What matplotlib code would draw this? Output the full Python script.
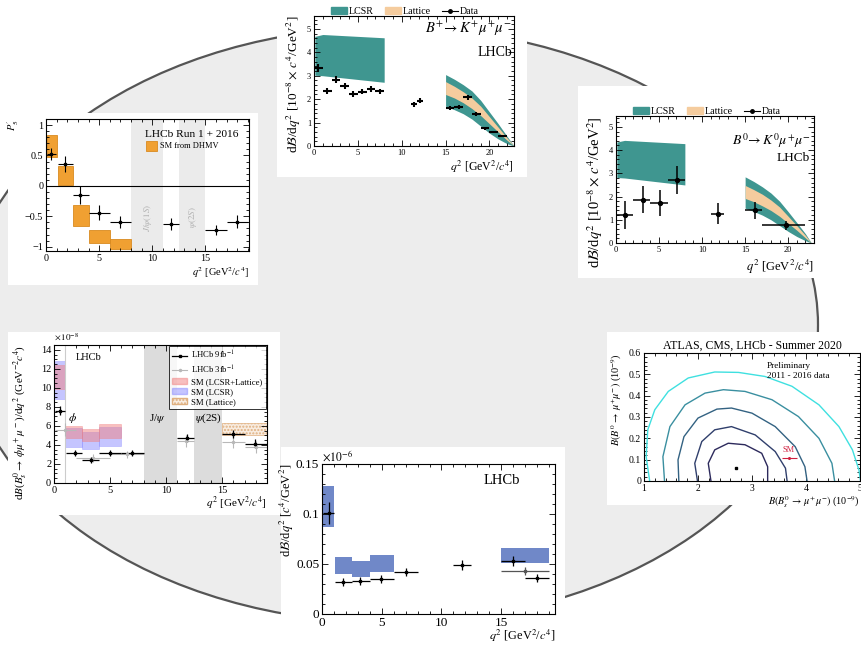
import numpy as np
import matplotlib
matplotlib.use("Agg")
import matplotlib.pyplot as plt
from matplotlib.patches import Ellipse, Rectangle, Patch
from matplotlib.lines import Line2D
from matplotlib.ticker import MultipleLocator, FuncFormatter

plt.rcParams['font.family'] = ['Liberation Serif', 'DejaVu Serif']
plt.rcParams['mathtext.fontset'] = 'stix'

W, H = 862, 649

# ---------------- P'5 (B0 -> K*0 mu mu) ----------------
p5_lo = [0.1, 1.1, 2.5, 4.0, 6.0, 11.0, 15.0, 17.0]
p5_hi = [0.98, 2.5, 4.0, 6.0, 8.0, 12.5, 17.0, 19.0]
p5_x = [0.5, 1.8, 3.2, 5.0, 7.0, 11.75, 16.0, 18.0]
p5_val = [0.52, 0.36, -0.15, -0.44, -0.59, -0.63, -0.72, -0.59]
p5_err = [0.10, 0.13, 0.15, 0.12, 0.10, 0.10, 0.08, 0.11]
sm_p5_lo = [0.1, 1.1, 2.5, 4.0, 6.0]
sm_p5_hi = [1.0, 2.5, 4.0, 6.0, 8.0]
sm_p5_min = [0.47, 0.02, -0.66, -0.94, -1.04]
sm_p5_max = [0.84, 0.33, -0.31, -0.72, -0.88]

# ---------------- B+ -> K+ mu mu ----------------
kp_x = [0.5, 1.5, 2.5, 3.5, 4.5, 5.5, 6.5, 7.5, 11.4, 12.1,
        15.5, 16.5, 17.5, 18.5, 19.5, 20.5, 21.5]
kp_xe = [0.5, 0.5, 0.5, 0.5, 0.5, 0.5, 0.5, 0.5, 0.375, 0.375,
         0.5, 0.5, 0.5, 0.5, 0.5, 0.5, 0.5]
kp_val = [3.33, 2.34, 2.83, 2.55, 2.22, 2.32, 2.45, 2.33, 1.78, 1.94,
          1.62, 1.66, 2.08, 1.38, 0.75, 0.60, 0.43]
kp_err = [0.17, 0.13, 0.14, 0.13, 0.12, 0.12, 0.13, 0.12, 0.10, 0.10,
          0.09, 0.09, 0.10, 0.08, 0.06, 0.05, 0.05]
kp_lcsr_lo_q2 = [0.1, 1.0, 8.0]
kp_lcsr_lo_up = [4.68, 4.76, 4.62]
kp_lcsr_lo_dn = [3.02, 3.00, 2.72]
kp_hi_q2 = [15, 16, 17, 18, 19, 20, 21, 22, 22.8]
kp_lcsr_hi_up = [3.05, 2.85, 2.62, 2.35, 1.95, 1.45, 0.95, 0.42, 0.0]
kp_lcsr_hi_dn = [1.70, 1.55, 1.38, 1.15, 0.85, 0.55, 0.30, 0.10, 0.0]
kp_lat_up = [2.75, 2.55, 2.32, 2.05, 1.70, 1.25, 0.80, 0.35, 0.0]
kp_lat_dn = [2.20, 2.05, 1.85, 1.60, 1.30, 0.95, 0.60, 0.25, 0.0]

# ---------------- B0 -> K0 mu mu ----------------
k0_lo = [0.1, 2.0, 4.0, 6.0, 11.0, 15.0, 17.0]
k0_hi = [2.0, 4.0, 6.0, 8.0, 12.5, 17.0, 22.0]
k0_x = [1.0, 3.1, 5.1, 7.1, 11.9, 16.1, 19.7]
k0_val = [1.22, 1.87, 1.72, 2.70, 1.27, 1.41, 0.76]
k0_err = [0.60, 0.57, 0.55, 0.60, 0.46, 0.37, 0.20]
k0_lcsr_lo_q2 = [0.1, 1.0, 8.0]
k0_lcsr_lo_up = [4.35, 4.42, 4.28]
k0_lcsr_lo_dn = [2.82, 2.80, 2.50]
k0_hi_q2 = [15, 16, 17, 18, 19, 20, 21, 22, 22.7]
k0_lcsr_hi_up = [2.85, 2.65, 2.42, 2.15, 1.80, 1.35, 0.88, 0.40, 0.0]
k0_lcsr_hi_dn = [1.50, 1.36, 1.20, 1.00, 0.75, 0.50, 0.28, 0.10, 0.0]
k0_lat_up = [2.48, 2.30, 2.10, 1.85, 1.55, 1.15, 0.75, 0.33, 0.0]
k0_lat_dn = [1.92, 1.78, 1.60, 1.40, 1.15, 0.85, 0.55, 0.22, 0.0]

# ---------------- Bs -> phi mu mu ----------------
phi9_lo = [0.1, 1.1, 2.5, 4.0, 6.0, 11.0, 15.0, 17.0]
phi9_hi = [0.98, 2.5, 4.0, 6.0, 8.0, 12.5, 17.0, 19.0]
phi9_x = [0.55, 1.9, 3.3, 5.0, 7.0, 11.9, 16.0, 17.9]
phi9_val = [7.6, 3.15, 2.4, 3.15, 3.15, 4.75, 5.15, 4.15]
phi9_err = [0.5, 0.3, 0.3, 0.3, 0.3, 0.45, 0.45, 0.45]
phi3_lo = [0.1, 2.0, 5.0, 11.0, 15.0, 17.0]
phi3_hi = [2.0, 5.0, 8.0, 12.5, 17.0, 19.0]
phi3_x = [1.0, 3.5, 6.5, 11.8, 16.0, 18.0]
phi3_val = [5.6, 2.6, 3.0, 4.4, 4.3, 3.8]
phi3_err = [0.7, 0.4, 0.4, 0.6, 0.6, 0.6]
sm_phi_lo = [0.1, 1.0, 2.5, 4.0]
sm_phi_hi = [1.0, 2.5, 4.0, 6.0]
sm_lcsr_min = [8.8, 3.8, 3.6, 3.9]
sm_lcsr_max = [12.8, 5.8, 5.4, 5.9]
sm_comb_min = [9.9, 4.7, 4.45, 4.75]
sm_comb_max = [12.4, 6.0, 5.7, 6.15]
sm_lat_lo, sm_lat_hi = [15.0], [19.0]
sm_lat_min, sm_lat_max = [5.0], [6.3]

# ---------------- bottom centre panel ----------------
bc_lo = [0.1, 1.1, 2.5, 4.0, 6.0, 11.0, 15.0, 15.0, 17.0]
bc_hi = [0.98, 2.5, 4.0, 6.0, 8.0, 12.5, 17.0, 19.0, 19.0]
bc_x = [0.56, 1.75, 3.2, 4.95, 7.0, 11.7, 16.0, 17.0, 18.0]
bc_val = [0.101, 0.0323, 0.0333, 0.035, 0.0422, 0.0488, 0.0528, 0.043, 0.0356]
bc_err = [0.011, 0.004, 0.004, 0.004, 0.004, 0.005, 0.005, 0.004, 0.004]
bc_col = ['k', 'k', 'k', 'k', 'k', 'k', 'k', '#555555', 'k']
bc_sm_lo = [0.1, 1.1, 2.5, 4.0, 15.0]
bc_sm_hi = [1.0, 2.5, 4.0, 6.0, 19.0]
bc_sm_min = [0.087, 0.040, 0.037, 0.042, 0.0515]
bc_sm_max = [0.128, 0.057, 0.0535, 0.0587, 0.066]

# ---------------- B(s) -> mu mu combination contours ----------------
cont_x = [
    [2.24, 2.19, 2.31, 2.56, 2.87, 3.18, 3.29, 3.29],
    [1.99, 1.94, 2.07, 2.31, 2.62, 3.06, 3.43, 3.62, 3.65],
    [1.645, 1.63, 1.74, 2.00, 2.35, 2.62, 3.00, 3.43, 3.80, 3.98, 4.02],
    [1.38, 1.35, 1.48, 1.76, 2.13, 2.47, 2.87, 3.37, 3.86, 4.24, 4.48, 4.53],
    [1.105, 1.04, 1.07, 1.20, 1.45, 1.82, 2.31, 2.75, 3.24, 3.74, 4.24,
     4.61, 4.86, 4.98, 5.01],
]
cont_y = [
    [0.0, 0.083, 0.146, 0.177, 0.170, 0.130, 0.067, 0.0],
    [0.0, 0.083, 0.185, 0.240, 0.255, 0.216, 0.138, 0.060, 0.0],
    [0.0, 0.099, 0.208, 0.295, 0.337, 0.342, 0.318, 0.255, 0.161, 0.067, 0.0],
    [0.0, 0.114, 0.255, 0.357, 0.412, 0.428, 0.420, 0.381, 0.302, 0.200, 0.083, 0.0],
    [0.0, 0.114, 0.240, 0.334, 0.420, 0.483, 0.511, 0.509, 0.490, 0.444, 0.357,
     0.255, 0.146, 0.052, 0.0],
]
cont_col = ['#2d2a5c', '#303f6c', '#336282', '#3a8fa0', '#3fe0e0']
best_fit = (2.70, 0.062)
sm_point = (3.69, 0.11)
sm_xerr = 0.14

TEAL = '#3f9690'
TAN = '#f5cc9e'
ORANGE = '#f0a032'


def fig_rect(x0, y0, x1, y1):
    # pixel box (top-left origin) -> figure fraction rect
    return [x0 / W, 1 - y1 / H, (x1 - x0) / W, (y1 - y0) / H]


def fmt_g(v, pos):
    s = '%g' % round(v, 6)
    return s.replace('-', '\u2212')


def root_axes(ax, xmaj, xmin, ymaj, ymin, fs=6):
    ax.tick_params(which='both', direction='in', top=True, right=True,
                   labelsize=fs, pad=2, width=0.6)
    ax.tick_params(which='major', length=4)
    ax.tick_params(which='minor', length=2)
    ax.xaxis.set_major_locator(MultipleLocator(xmaj))
    ax.xaxis.set_minor_locator(MultipleLocator(xmin))
    ax.yaxis.set_major_locator(MultipleLocator(ymaj))
    ax.yaxis.set_minor_locator(MultipleLocator(ymin))
    ax.xaxis.set_major_formatter(FuncFormatter(fmt_g))
    ax.yaxis.set_major_formatter(FuncFormatter(fmt_g))
    for s in ax.spines.values():
        s.set_linewidth(0.8)


def axis_titles(ax, xlab, ylab, xfs, yfs, xoff=-0.2, yoff=-0.15):
    # ROOT style: titles pushed to the far end of each axis
    ax.text(1.0, xoff, xlab, transform=ax.transAxes, fontsize=xfs,
            ha='right', va='center')
    ax.text(yoff, 1.0, ylab, transform=ax.transAxes, fontsize=yfs,
            rotation=90, ha='center', va='top')


def bin_err(x, lo, hi):
    x = np.asarray(x)
    return [x - np.asarray(lo), np.asarray(hi) - x]


fig = plt.figure(figsize=(W / 100, H / 100), dpi=100)

# background ellipse and white panel cards
bg = fig.add_axes([0, 0, 1, 1])
bg.set_xlim(0, W)
bg.set_ylim(H, 0)
bg.axis('off')
bg.add_patch(Ellipse((390, 325), 856, 596, facecolor='#ededed',
                     edgecolor='#555555', linewidth=1.6))
for (x0, y0, x1, y1) in [(8, 113, 258, 285), (277, 0, 527, 177),
                         (578, 86, 827, 278), (8, 332, 280, 515),
                         (281, 447, 565, 649), (607, 332, 862, 505)]:
    bg.add_patch(Rectangle((x0, y0), x1 - x0, y1 - y0, facecolor='white',
                           edgecolor='none'))

# ---- P'5 panel ----
ax1 = fig.add_axes(fig_rect(46, 119, 249, 251))
ax1.axvspan(8, 11, color='#ebebeb', lw=0)
ax1.axvspan(12.5, 15, color='#ebebeb', lw=0)
ax1.axhline(0, color='k', lw=0.8)
for lo, hi, mn, mx in zip(sm_p5_lo, sm_p5_hi, sm_p5_min, sm_p5_max):
    ax1.add_patch(Rectangle((lo, mn), hi - lo, mx - mn, facecolor=ORANGE,
                            edgecolor='#d98a20', lw=0.6))
ax1.errorbar(p5_x, p5_val, xerr=bin_err(p5_x, p5_lo, p5_hi), yerr=p5_err,
             fmt='s', ms=2, color='k', elinewidth=0.8, capsize=0)
ax1.text(9.55, -0.52, r'$J/\psi(1S)$', rotation=90, color='#b0b0b0',
         fontsize=6.5, ha='center', va='center')
ax1.text(13.8, -0.52, r'$\psi(2S)$', rotation=90, color='#b0b0b0',
         fontsize=6.5, ha='center', va='center')
ax1.text(0.49, 0.885, 'LHCb Run 1 + 2016', transform=ax1.transAxes,
         fontsize=8.2, va='center')
ax1.add_patch(Rectangle((0.495, 0.76), 0.05, 0.07, transform=ax1.transAxes,
                        facecolor=ORANGE, edgecolor='#d98a20', lw=0.6))
ax1.text(0.56, 0.795, 'SM from DHMV', transform=ax1.transAxes, fontsize=6,
         va='center')
ax1.set_xlim(0, 19.1)
ax1.set_ylim(-1.07, 1.1)
root_axes(ax1, 5, 1, 0.5, 0.1, fs=7.3)
axis_titles(ax1, r'$q^2$ [GeV$^2$/$c^4$]', r"$P_5'$", 7.5, 7.5,
            xoff=-0.167, yoff=-0.16)


def kmumu_panel(ax, lo_q2, lo_up, lo_dn, hi_q2, hi_up, hi_dn, lat_up, lat_dn):
    ax.fill_between(lo_q2, lo_dn, lo_up, color=TEAL, lw=0)
    ax.fill_between(hi_q2, hi_dn, hi_up, color=TEAL, lw=0)
    ax.fill_between(hi_q2, lat_dn, lat_up, color=TAN, lw=0)
    handles = [Patch(color=TEAL), Patch(color=TAN),
               Line2D([], [], color='k', marker='o', ms=2.5, lw=0.8)]
    ax.legend(handles, ['LCSR', 'Lattice', 'Data'], ncol=3, loc='lower left',
              bbox_to_anchor=(0.08, 0.99), frameon=False, fontsize=7.2,
              handlelength=1.6, handletextpad=0.2, columnspacing=1.1,
              borderaxespad=0, borderpad=0.1)


dbdq2 = r'd$\mathcal{B}$/d$q^2$ [10$^{-8}\times\,c^4$/GeV$^2$]'
q2lab = r'$q^2$ [GeV$^2$/$c^4$]'

# ---- B+ -> K+ mu mu ----
ax2 = fig.add_axes(fig_rect(314, 16, 514, 146))
kmumu_panel(ax2, kp_lcsr_lo_q2, kp_lcsr_lo_up, kp_lcsr_lo_dn, kp_hi_q2,
            kp_lcsr_hi_up, kp_lcsr_hi_dn, kp_lat_up, kp_lat_dn)
ax2.errorbar(kp_x, kp_val, xerr=kp_xe, yerr=kp_err, fmt='none', color='k',
             elinewidth=1.5, capsize=0)
ax2.text(0.99, 0.90, r'$B^{+}\!\rightarrow K^{+}\mu^{+}\mu^{-}$',
         transform=ax2.transAxes, fontsize=10.5, ha='right', va='center')
ax2.text(0.99, 0.72, 'LHCb', transform=ax2.transAxes, fontsize=10,
         ha='right', va='center')
ax2.set_xlim(0, 22.8)
ax2.set_ylim(0, 5.55)
root_axes(ax2, 5, 1, 1, 0.2, fs=6)
axis_titles(ax2, q2lab, dbdq2, 8.5, 9.5, xoff=-0.16, yoff=-0.1)

# ---- B0 -> K0 mu mu ----
ax3 = fig.add_axes(fig_rect(616, 116, 814, 243))
kmumu_panel(ax3, k0_lcsr_lo_q2, k0_lcsr_lo_up, k0_lcsr_lo_dn, k0_hi_q2,
            k0_lcsr_hi_up, k0_lcsr_hi_dn, k0_lat_up, k0_lat_dn)
ax3.errorbar(k0_x, k0_val, xerr=bin_err(k0_x, k0_lo, k0_hi), yerr=k0_err,
             fmt='o', ms=2.8, color='k', elinewidth=1.1, capsize=0)
ax3.text(0.98, 0.81, r'$B^{0}\!\rightarrow K^{0}\mu^{+}\mu^{-}$',
         transform=ax3.transAxes, fontsize=10, ha='right', va='center')
ax3.text(0.98, 0.67, 'LHCb', transform=ax3.transAxes, fontsize=9.5,
         ha='right', va='center')
ax3.set_xlim(0, 23)
ax3.set_ylim(0, 5.47)
root_axes(ax3, 5, 1, 1, 0.2, fs=6)
axis_titles(ax3, q2lab, dbdq2, 9, 10.5, xoff=-0.19, yoff=-0.105)

# ---- Bs -> phi mu mu ----
ax4 = fig.add_axes(fig_rect(54, 345, 267, 483))
ax4.axvspan(8, 11, color='#dcdcdc', lw=0)
ax4.axvspan(12.5, 15, color='#dcdcdc', lw=0)
ax4.axvline(1.0, color='#cccccc', lw=0.8)
for lo, hi, mn, mx in zip(sm_phi_lo, sm_phi_hi, sm_lcsr_min, sm_lcsr_max):
    ax4.add_patch(Rectangle((lo, mn), hi - lo, mx - mn, facecolor='#8080ff',
                            alpha=0.45, edgecolor='#8080ff', lw=0.5))
for lo, hi, mn, mx in zip(sm_phi_lo, sm_phi_hi, sm_comb_min, sm_comb_max):
    ax4.add_patch(Rectangle((lo, mn), hi - lo, mx - mn, facecolor='#f08080',
                            alpha=0.5, edgecolor='#f08080', lw=0.5))
for lo, hi, mn, mx in zip(sm_lat_lo, sm_lat_hi, sm_lat_min, sm_lat_max):
    ax4.add_patch(Rectangle((lo, mn), hi - lo, mx - mn, facecolor='#f8ece0',
                            edgecolor='#e0b080', hatch='.....', lw=0.5))
ax4.errorbar(phi3_x, phi3_val, xerr=bin_err(phi3_x, phi3_lo, phi3_hi),
             yerr=phi3_err, fmt='o', ms=1.5, color='#b8b8b8', elinewidth=0.8,
             capsize=0)
ax4.errorbar(phi9_x, phi9_val, xerr=bin_err(phi9_x, phi9_lo, phi9_hi),
             yerr=phi9_err, fmt='s', ms=2, color='k', elinewidth=0.9,
             capsize=0)
ax4.text(1.9, 12.9, 'LHCb', fontsize=7.5)
ax4.text(1.25, 6.5, r'$\phi$', fontsize=8.5)
ax4.text(8.5, 6.5, r'J/$\psi$', fontsize=8)
ax4.text(12.6, 6.5, r'$\psi$(2S)', fontsize=8)
leg_h = [
    Line2D([], [], color='k', marker='s', ms=2, lw=0.9),
    Line2D([], [], color='#b8b8b8', marker='o', ms=1.5, lw=0.8),
    Patch(facecolor='#f08080', alpha=0.5, edgecolor='#f08080'),
    Patch(facecolor='#8080ff', alpha=0.45, edgecolor='#8080ff'),
    Patch(facecolor='#f8ece0', edgecolor='#e0b080', hatch='.....'),
]
leg_l = [r'LHCb 9fb$^{-1}$', r'LHCb 3fb$^{-1}$', 'SM (LCSR+Lattice)',
         'SM (LCSR)', 'SM (Lattice)']
lg = ax4.legend(leg_h, leg_l, loc='upper right', fontsize=6.2, frameon=True,
                fancybox=False, edgecolor='k', borderaxespad=0.15,
                handlelength=1.7, handletextpad=0.5, labelspacing=0.25,
                borderpad=0.35)
lg.get_frame().set_linewidth(0.7)
ax4.set_xlim(0, 19)
ax4.set_ylim(0, 14.5)
root_axes(ax4, 5, 1, 2, 0.5, fs=7.5)
ax4.text(0.0, 1.02, r'$\times\,10^{-8}$', transform=ax4.transAxes, fontsize=6.5,
         ha='left', va='bottom')
axis_titles(ax4, q2lab,
            r'd$B$($B_s^0\rightarrow\,\phi\mu^+\mu^-$)/d$q^2$ (GeV$^{-2}c^4$)',
            8, 8, xoff=-0.145, yoff=-0.155)

# ---- bottom centre panel ----
ax5 = fig.add_axes(fig_rect(322, 464, 555, 614))
for lo, hi, mn, mx in zip(bc_sm_lo, bc_sm_hi, bc_sm_min, bc_sm_max):
    ax5.add_patch(Rectangle((lo, mn), hi - lo, mx - mn, facecolor='#7088c8',
                            edgecolor='none'))
xe5 = bin_err(bc_x, bc_lo, bc_hi)
for i in range(len(bc_x)):
    ax5.errorbar([bc_x[i]], [bc_val[i]], xerr=[[xe5[0][i]], [xe5[1][i]]],
                 yerr=[bc_err[i]], fmt='s', ms=1.5, color=bc_col[i],
                 elinewidth=0.9, capsize=0)
ax5.text(0.77, 0.89, 'LHCb', transform=ax5.transAxes, fontsize=10.5,
         ha='center', va='center')
ax5.set_xlim(0, 19.5)
ax5.set_ylim(0, 0.15)
root_axes(ax5, 5, 1, 0.05, 0.01, fs=9.5)
ax5.text(0.0, 1.0, r'$\times10^{-6}$', transform=ax5.transAxes, fontsize=8.5,
         ha='left', va='bottom')
axis_titles(ax5, q2lab, r'd$\mathcal{B}$/d$q^2$ [$c^4$/GeV$^2$]', 8.8, 9,
            xoff=-0.147, yoff=-0.15)

# ---- B(s) -> mu mu contours ----
ax6 = fig.add_axes(fig_rect(644, 353, 860, 481))
for xs, ys, c in zip(cont_x, cont_y, cont_col):
    ax6.plot(xs, ys, color=c, lw=1.0)
ax6.plot([best_fit[0]], [best_fit[1]], 's', color='k', ms=1.8)
ax6.errorbar([sm_point[0]], [sm_point[1]], xerr=sm_xerr, fmt='o', ms=1.2,
             color='#d02040', elinewidth=0.8, capsize=0)
ax6.text(sm_point[0] - 0.02, sm_point[1] + 0.015, 'SM', color='#d02040',
         fontsize=6, ha='center', va='bottom')
ax6.text(0.57, 0.93, 'Preliminary\n2011 - 2016 data', transform=ax6.transAxes,
         fontsize=6.7, ha='left', va='top', linespacing=1.3)
ax6.set_xlim(1, 5)
ax6.set_ylim(0, 0.6)
root_axes(ax6, 1, 0.2, 0.1, 0.02, fs=7)
ax6.set_title('ATLAS, CMS, LHCb - Summer 2020', fontsize=8.5, pad=3)
axis_titles(ax6, r'$B(B^0_s\,\rightarrow\,\mu^{+}\mu^{-})$ (10$^{-9}$)',
            r'$B(B^0\,\rightarrow\,\mu^{+}\mu^{-})$ (10$^{-9}$)', 7.3, 7.4,
            xoff=-0.165, yoff=-0.125)

fig.savefig('out.png', dpi=100)
